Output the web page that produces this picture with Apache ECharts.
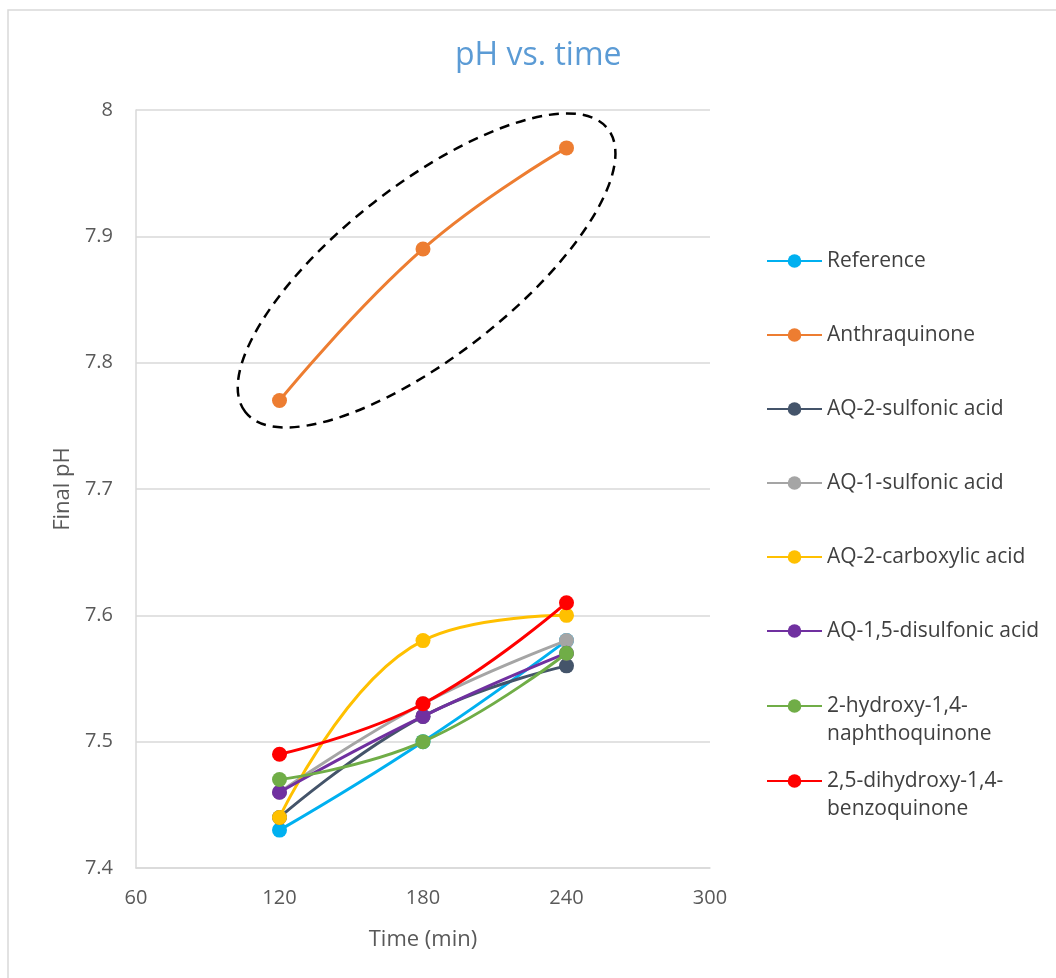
<!DOCTYPE html>
<html>
<head>
<meta charset="utf-8">
<script src="https://cdn.jsdelivr.net/npm/echarts@6/dist/echarts.min.js"></script>
<style>
html,body{margin:0;padding:0;background:#fff;}
#chart{width:1056px;height:978px;}
</style>
</head>
<body>
<div id="chart"></div>
<script>
// ---- data ----
const times = [120, 180, 240];
const seriesNames = [
  'Reference',
  'Anthraquinone',
  'AQ-2-sulfonic acid',
  'AQ-1-sulfonic acid',
  'AQ-2-carboxylic acid',
  'AQ-1,5-disulfonic acid',
  '2-hydroxy-1,4-naphthoquinone',
  '2,5-dihydroxy-1,4-benzoquinone'
];
const legendLabels = [
  'Reference',
  'Anthraquinone',
  'AQ-2-sulfonic acid',
  'AQ-1-sulfonic acid',
  'AQ-2-carboxylic acid',
  'AQ-1,5-disulfonic acid',
  ' \n2-hydroxy-1,4-\nnaphthoquinone',
  ' \n2,5-dihydroxy-1,4-\nbenzoquinone'
];
const reference = [7.43, 7.50, 7.58];
const anthraquinone = [7.77, 7.89, 7.97];
const aq2Sulfonic = [7.44, 7.52, 7.56];
const aq1Sulfonic = [7.46, 7.53, 7.58];
const aq2Carboxylic = [7.44, 7.58, 7.60];
const aq15Disulfonic = [7.46, 7.52, 7.57];
const hydroxyNaphtho = [7.47, 7.50, 7.57];
const dihydroxyBenzo = [7.49, 7.53, 7.61];
const xTicks = [60, 120, 180, 240, 300];
const yTicks = [7.4, 7.5, 7.6, 7.7, 7.8, 7.9, 8];

const allValues = [reference, anthraquinone, aq2Sulfonic, aq1Sulfonic, aq2Carboxylic, aq15Disulfonic, hydroxyNaphtho, dihydroxyBenzo];
const colors = ['#00B0F0', '#ED7D31', '#44546A', '#A5A5A5', '#FFC000', '#7030A0', '#70AD47', '#FF0000'];

const FONT = 'Open Sans';
const TXT = '#595959';

const chart = echarts.init(document.getElementById('chart'));

const series = seriesNames.map((name, i) => ({
  name: name,
  type: 'line',
  data: times.map((t, j) => [t, allValues[i][j]]),
  smooth: 0.45,
  symbol: 'circle',
  symbolSize: 15,
  showSymbol: true,
  lineStyle: { width: 3, color: colors[i] },
  itemStyle: { color: colors[i] },
  emphasis: { disabled: true },
  z: 2 + i
}));

function legendFor(indices, top) {
  return {
    orient: 'vertical',
    left: 761,
    top: top,
    itemWidth: 55,
    itemHeight: 17,
    itemGap: 46,
    selectedMode: false,
    data: indices.map(i => seriesNames[i]),
    formatter: function (n) { return legendLabels[seriesNames.indexOf(n)]; },
    textStyle: { fontFamily: FONT, fontSize: 21, color: '#404040', lineHeight: 28 }
  };
}

const option = {
  animation: false,
  backgroundColor: '#fff',
  title: {
    text: 'pH vs. time',
    left: 455,
    top: 40,
    padding: 0,
    textStyle: { fontFamily: FONT, fontSize: 32, fontWeight: 'normal', color: '#5B9BD5' }
  },
  legend: [
    legendFor([0, 1, 2, 3, 4, 5], 242),
    legendFor([6], 659),
    legendFor([7], 734)
  ],
  grid: { left: 136, right: 346, top: 110, bottom: 110, containLabel: false },
  xAxis: {
    type: 'value',
    min: xTicks[0], max: xTicks[xTicks.length - 1], interval: 60,
    name: 'Time (min)', nameLocation: 'middle', nameGap: 61,
    nameTextStyle: { fontFamily: FONT, fontSize: 22, color: TXT },
    axisLine: { show: true, lineStyle: { color: '#D9D9D9', width: 1.5 } },
    axisTick: { show: false },
    splitLine: { show: false },
    axisLabel: { fontFamily: FONT, fontSize: 20, color: TXT, margin: 20 }
  },
  yAxis: {
    type: 'value',
    min: yTicks[0], max: yTicks[yTicks.length - 1], interval: 0.1,
    name: 'Final pH', nameLocation: 'middle', nameGap: 62, nameRotate: 90,
    nameTextStyle: { fontFamily: FONT, fontSize: 22, color: TXT },
    axisLine: { show: true, lineStyle: { color: '#D9D9D9', width: 1.5 } },
    axisTick: { show: false },
    splitLine: { show: true, lineStyle: { color: '#D9D9D9', width: 1.5 } },
    axisLabel: { fontFamily: FONT, fontSize: 20, color: TXT, margin: 23,
      formatter: v => String(Math.round(v * 10) / 10) }
  },
  series: series
};
chart.setOption(option);

// annotation: dashed ellipse around the Anthraquinone series
const ellipseCenter = [181.5, 7.873]; // data coords
const ellipseRx = 230, ellipseRy = 86, ellipseAngleDeg = 38;
const c = chart.convertToPixel({ gridIndex: 0 }, ellipseCenter);
chart.setOption({
  graphic: [
    {
      type: 'rect',
      shape: { x: 8, y: 10, width: 1100, height: 1000 },
      style: { fill: 'none', stroke: '#D9D9D9', lineWidth: 1.5 },
      silent: true, z: 0
    },
    {
      type: 'ellipse',
      x: c[0], y: c[1],
      rotation: ellipseAngleDeg * Math.PI / 180,
      shape: { cx: 0, cy: 0, rx: ellipseRx, ry: ellipseRy },
      style: { fill: 'none', stroke: '#000', lineWidth: 2.5, lineDash: [10, 7] },
      silent: true, z: 100
    }
  ]
});
</script>
</body>
</html>
